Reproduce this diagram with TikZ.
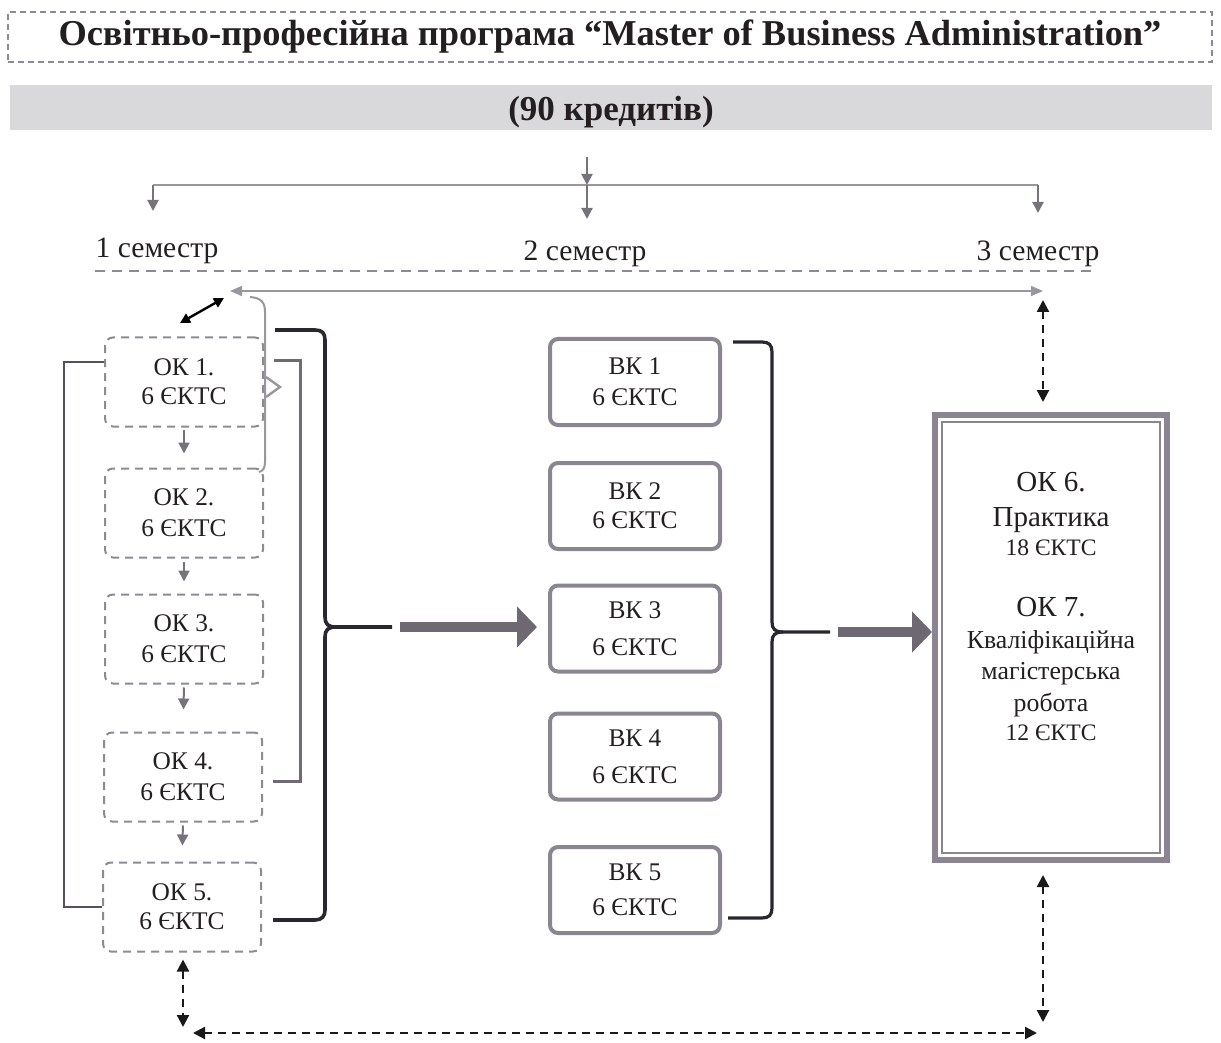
\documentclass[tikz,border=0pt]{standalone}
\usepackage{fontspec}
\setmainfont{Liberation Serif}
\usetikzlibrary{arrows.meta,calc}
\definecolor{txt}{HTML}{231F20}
\definecolor{boxgray}{HTML}{8A8590}
\definecolor{dashgray}{HTML}{8E8A92}
\definecolor{brk}{HTML}{2B2630}
\definecolor{midgray}{HTML}{6F6A75}
\definecolor{leftgray}{HTML}{55505A}
\definecolor{bandgray}{HTML}{D9D9DB}
\definecolor{thinline}{HTML}{9A969E}
\definecolor{arrgray}{HTML}{77737B}
\definecolor{fatgray}{HTML}{6E6872}
\begin{document}
\begin{tikzpicture}[x=0.5pt,y=-0.5pt,
  font=\fontsize{12.7}{14.5}\selectfont, text=txt,
  okbox/.style={draw=dashgray, dash pattern=on 4pt off 3pt, line width=1pt,
    rounded corners=4pt, minimum width=79pt, minimum height=44.5pt,
    align=center, inner sep=0pt},
  bkbox/.style={draw=boxgray, line width=2pt, rounded corners=4pt,
    minimum width=85pt, minimum height=43pt, align=center, inner sep=0pt},
  semlabel/.style={font=\fontsize{14.8}{17}\selectfont, inner sep=0pt},
  smallarr/.style={draw=arrgray, line width=1pt, -{Triangle[length=5.5pt,width=5.5pt]}},
  grayarr/.style={draw=thinline, line width=0.8pt},
  dasharr/.style={draw=black!90, line width=1.1pt, dash pattern=on 4pt off 3pt,
    {Triangle[length=6pt,width=6pt]}-{Triangle[length=6pt,width=6pt]}},
  fatarr/.style={draw=fatgray, line width=5pt, -{Triangle[length=10pt,width=20pt]}},
  darkbrace/.style={draw=brk, line width=1.8pt},
]
\useasboundingbox (0,0) rectangle (1221,1043);

% ---- title and credits band
\node[draw=dashgray, dash pattern=on 3pt off 2pt, line width=0.8pt,
  minimum width=602pt, minimum height=25pt] (title) at (610,37)
  {\fontsize{18.2}{20}\selectfont\bfseries Освітньо-професійна програма “Master of Business Administration”};
\node[fill=bandgray, minimum width=601pt, minimum height=22.5pt, inner sep=0pt,
  text height=15pt, text depth=2pt] (band) at (611,108)
  {\fontsize{17.5}{20}\selectfont\bfseries (90 кредитів)};

% ---- distribution to semesters
\coordinate (d0) at (587,157);
\coordinate (dc) at (587,185);
\coordinate (dl) at (153,185);
\coordinate (dr) at (1038,185);
\coordinate (a1) at (153,211);
\coordinate (a2) at (587,219);
\coordinate (a3) at (1038,213);
\draw[smallarr] (d0) -- (dc);
\draw[thinline, line width=0.6pt] (dl) -- (dr);
\draw[smallarr] (dl) -- (a1);
\draw[smallarr] (dc) -- (a2);
\draw[smallarr] (dr) -- (a3);

\node[semlabel] (s1) at (157,251) {1 семестр};
\node[semlabel] (s2) at (585,254) {2 семестр};
\node[semlabel] (s3) at (1038,254) {3 семестр};

\coordinate (sl) at (95,271);
\coordinate (sr) at (1093,271);
\draw[dashgray, dash pattern=on 5pt off 3.5pt, line width=1pt] (sl) -- (sr);

\coordinate (gl) at (230,291);
\coordinate (gr) at (1043,291);
\draw[grayarr, {Triangle[length=6pt,width=5pt]}-{Triangle[length=6pt,width=5pt]}] (gl) -- (gr);

\coordinate (dg1) at (180,323);
\coordinate (dg2) at (224,298);
\draw[black, line width=1.2pt, {Triangle[length=5pt,width=5pt]}-{Triangle[length=5pt,width=5pt]}] (dg1) -- (dg2);

% ---- semester 1 boxes
\node[okbox] (ok1) at (184,382) {ОК 1.\\6 ЄКТС};
\node[okbox] (ok2) at (184,513) {ОК 2.\\[1pt]6 ЄКТС};
\node[okbox] (ok3) at (184,639) {ОК 3.\\[1pt]6 ЄКТС};
\node[okbox] (ok4) at (183,777) {ОК 4.\\[1pt]6 ЄКТС};
\node[okbox] (ok5) at (182,907) {ОК 5.\\6 ЄКТС};
\draw[smallarr, shorten <=1pt, shorten >=7pt] (ok1.south) -- (ok2.north);
\draw[smallarr, shorten <=1.5pt, shorten >=6pt] (ok2.south) -- (ok3.north);
\draw[smallarr, shorten <=1.5pt, shorten >=11pt] (ok3.south) -- (ok4.north);
\draw[smallarr, shorten <=1.5pt, shorten >=8pt] (ok4.south) -- (ok5.north);

% outer left bracket
\draw[leftgray, line width=1.2pt] ([yshift=10pt]ok1.west) -- ++(-40,0) |- (ok5.west);
% small brace by OK 1
\draw[thinline, line width=1pt] (250,297) .. controls (261,298) and (265,302) .. (265,312)
  -- (265,462) .. controls (265,468) and (263,471) .. (259,472);
\draw[thinline, line width=1.2pt] (266,377) -- (280,387) -- (266,397);
% gray bracket OK1 - OK4
\draw[midgray, line width=1.5pt] ([shift={(5pt,11pt)}]ok1.east) -- (300,360) -- (300,781) -- ([shift={(5pt,-2pt)}]ok4.east);
% big dark brace OK1 - OK5
\coordinate (bt1) at (392,627);
\draw[darkbrace] (275,330) -- (315,330) .. controls (322,330) and (325,333) .. (325,340)
  -- (325,617) .. controls (325,624) and (328,627) .. (336,627) -- (bt1);
\draw[darkbrace] (336,627) .. controls (328,627) and (325,630) .. (325,637)
  -- (325,910) .. controls (325,916) and (322,920) .. (315,920) -- (273,920);

% ---- semester 2 boxes
\node[bkbox] (bk1) at (635,382) {ВК 1\\[1pt]6 ЄКТС};
\node[bkbox] (bk2) at (635,506) {ВК 2\\6 ЄКТС};
\node[bkbox] (bk3) at (635,628.5) {ВК 3\\[4pt]6 ЄКТС};
\node[bkbox] (bk4) at (635,756.5) {ВК 4\\[4pt]6 ЄКТС};
\node[bkbox] (bk5) at (635,890) {ВК 5\\[3pt]6 ЄКТС};
\draw[fatarr] ([xshift=4pt]bt1) -- ([xshift=-5.5pt]bk3.west |- bt1);

% brace for BK
\coordinate (bt2) at (830,632);
\draw[darkbrace, line width=1.6pt] (733,342) -- (762,342) .. controls (769,342) and (772,345) .. (772,352)
  -- (772,622) .. controls (772,629) and (775,632) .. (783,632) -- (bt2);
\draw[darkbrace, line width=1.6pt] (783,632) .. controls (775,632) and (772,635) .. (772,642)
  -- (772,908) .. controls (772,915) and (769,918) .. (762,918) -- (728,918);

% ---- semester 3 box
\node[draw=boxgray, line width=3pt, minimum width=116pt, minimum height=222.5pt, inner sep=0pt] (big) at (1051,637.5) {};
\draw[boxgray, line width=0.8pt] ([shift={(5pt,-5pt)}]big.north west) rectangle ([shift={(-5pt,5pt)}]big.south east);
\node[align=center, inner sep=0pt, font=\fontsize{12.9}{15.5}\selectfont] (bigtext) at (1051,607)
  {{\fontsize{14.5}{15.5}\selectfont ОК 6.}\\[2pt]
   {\fontsize{14.5}{15.5}\selectfont Практика}\\[-1pt]
   {\fontsize{11.8}{15.5}\selectfont 18 ЄКТС}\\[15pt]
   {\fontsize{14.5}{15.5}\selectfont ОК 7.}\\[0.5pt]
   Кваліфікаційна\\
   магістерська\\[0.5pt]
   робота\\[-1pt]
   {\fontsize{11.8}{15.5}\selectfont 12 ЄКТС}};
\draw[fatarr] ([xshift=4pt]bt2) -- (big.west |- bt2);

% ---- dashed links
\coordinate (c3top) at (1043,300);
\coordinate (c3bot) at (1043,1022);
\coordinate (c1bot) at (183,1027);
\coordinate (hl) at (193,1033);
\coordinate (hr) at (1037,1033);
\draw[dasharr] (c3top) -- ([xshift=-4pt,yshift=5pt]big.north);
\draw[dasharr] ([xshift=-4pt,yshift=-6pt]big.south) -- (c3bot);
\draw[dasharr] ([xshift=0.5pt,yshift=-3.5pt]ok5.south) -- (c1bot);
\draw[dasharr] (hl) -- (hr);
\end{tikzpicture}
\end{document}
